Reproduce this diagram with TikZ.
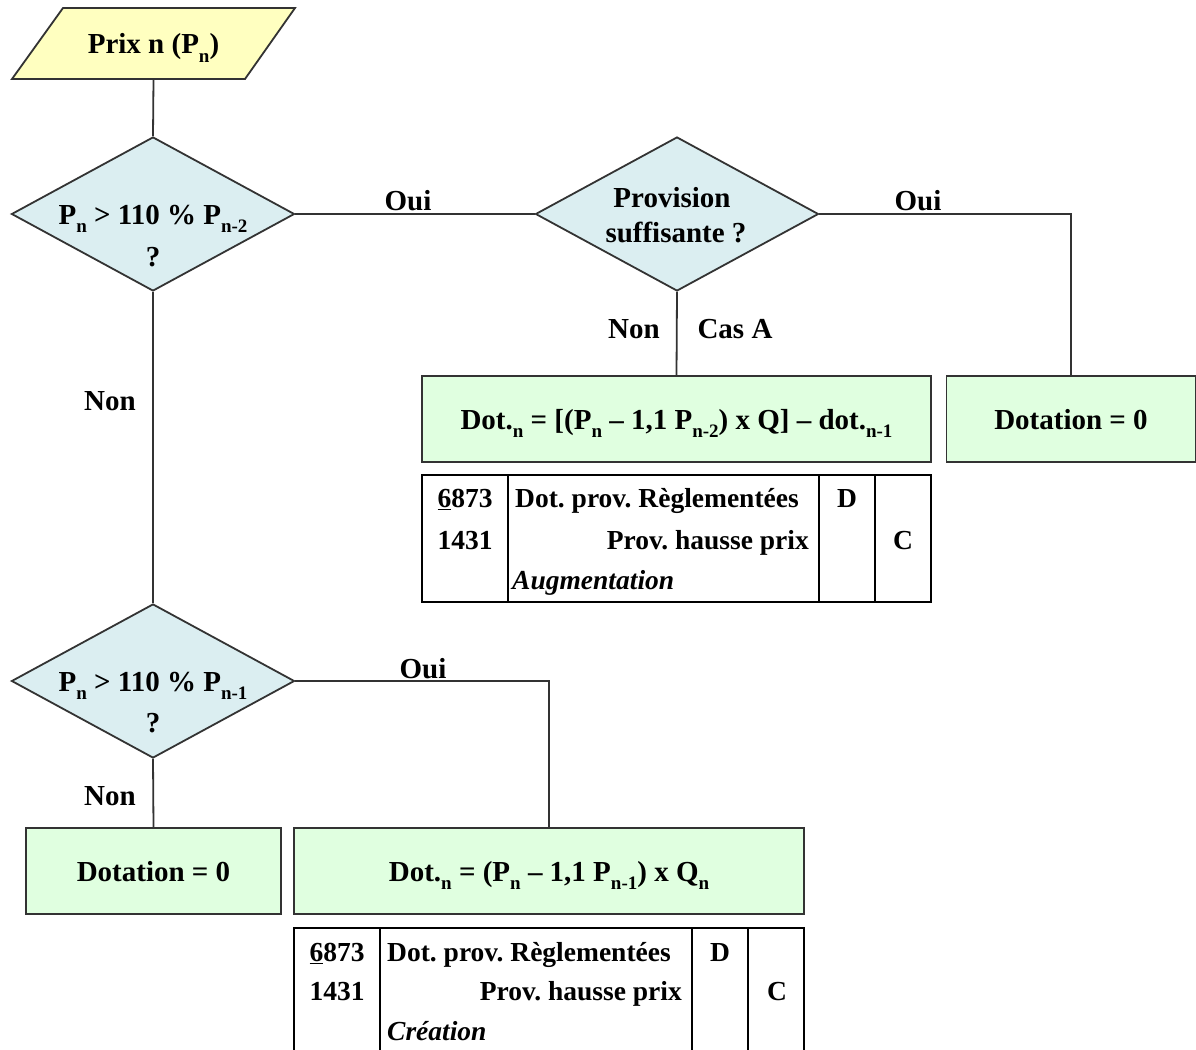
\documentclass[tikz,border=0pt]{standalone}
\usepackage{fontspec}
\setmainfont{Liberation Serif}
\usetikzlibrary{shapes.geometric}
\definecolor{yelfill}{RGB}{255,255,192}
\definecolor{bluefill}{RGB}{219,238,241}
\definecolor{greenfill}{RGB}{224,255,224}
\definecolor{edge}{RGB}{51,51,51}
\newcommand{\lsub}[1]{\raisebox{-0.3em}{\fontsize{19}{20}\selectfont #1}}
\frenchspacing
\tikzset{
  base/.style={font=\fontsize{29}{34}\selectfont\bfseries, inner sep=0pt, text height=20pt, text depth=0pt},
  decision/.style={diamond, draw=edge, line width=1.8pt, fill=bluefill, minimum width=283pt, minimum height=154pt, inner sep=0pt},
  result/.style={rectangle, draw=edge, line width=1.8pt, fill=greenfill, minimum height=86pt, inner sep=0pt, text height=20pt, text depth=0pt, font=\fontsize{29}{34}\selectfont\bfseries},
  conn/.style={draw=edge, line width=1.8pt},
  lbl/.style={base},
  tab/.style={draw=black, line width=1.6pt},
  tabtxt/.style={font=\fontsize{27.5}{32}\selectfont\bfseries, inner sep=0pt, text height=19pt, text depth=0pt},
}
\begin{document}
\begin{tikzpicture}[x=1pt, y=-1pt]
\useasboundingbox (0,0) rectangle (1196,1049);
\clip (0,0) rectangle (1196,1049);
\fill[white] (0,0) rectangle (1196,1049);

% start parallelogram
\draw[fill=yelfill, draw=edge, line width=1.8pt] (63,8) -- (295,8) -- (245,79) -- (12,79) -- cycle;
\node[base, minimum width=200pt, minimum height=71pt] (start) at (153.5,43.5) {Prix n (P\lsub{n})};

% decisions
\node[decision] (d1) at (153,214) {};
\node[base] at (153,214) {P\lsub{n} > 110 \% P\lsub{n-2}};
\node[base] at (153,256) {?};

\node[decision] (d2) at (677,214) {};
\node[base] at (672,197) {Provision};
\node[base] at (676,232) {suffisante ?};

\node[decision] (d3) at (153,681) {};
\node[base] at (153,681) {P\lsub{n} > 110 \% P\lsub{n-1}};
\node[base] at (153,722) {?};

% results
\node[result, minimum width=509pt] (ba) at (676.5,419) {Dot.\lsub{n} = [(P\lsub{n} – 1,1 P\lsub{n-2}) x Q] – dot.\lsub{n-1}};
\node[result, minimum width=249pt] (z1) at (1071,419) {Dotation = 0};
\node[result, minimum width=255pt] (z2) at (153.5,871) {Dotation = 0};
\node[result, minimum width=510pt] (bb) at (549,871) {Dot.\lsub{n} = (P\lsub{n} – 1,1 P\lsub{n-1}) x Q\lsub{n}};

% connectors
\draw[conn] (start.south) -- (d1.north);
\draw[conn] (d1.east) -- (d2.west);
\draw[conn] (d2.east) -| (z1.north);
\draw[conn] (d2.south) -- (ba.north);
\draw[conn] (d1.south) -- (d3.north);
\draw[conn] (d3.east) -| (bb.north);
\draw[conn] (d3.south) -- (z2.north);

% labels
\node[lbl] at (408,200) {Oui};
\node[lbl] at (918,200) {Oui};
\node[lbl] at (634,328) {Non};
\node[lbl] at (735,328) {Cas A};
\node[lbl] at (110,400) {Non};
\node[lbl] at (423,668) {Oui};
\node[lbl] at (110,795) {Non};

% table A
\draw[tab] (422,475) rectangle (931,602);
\draw[tab] (508,475) -- (508,602);
\draw[tab] (819,475) -- (819,602);
\draw[tab] (875,475) -- (875,602);
\node[tabtxt] at (465,498) {\underline{6}873};
\node[tabtxt] at (465,540) {1431};
\node[tabtxt, anchor=west] at (515,498) {Dot. prov. Règlementées};
\node[tabtxt, anchor=east] at (809,540) {Prov. hausse prix};
\node[tabtxt, anchor=west] at (512,580) {\itshape Augmentation};
\node[tabtxt] at (847,498) {D};
\node[tabtxt] at (903,540) {C};

% table B
\draw[tab] (294,928) rectangle (804,1070);
\draw[tab] (380,928) -- (380,1070);
\draw[tab] (692,928) -- (692,1070);
\draw[tab] (748,928) -- (748,1070);
\node[tabtxt] at (337,952) {\underline{6}873};
\node[tabtxt] at (337,991) {1431};
\node[tabtxt, anchor=west] at (387,952) {Dot. prov. Règlementées};
\node[tabtxt, anchor=east] at (682,991) {Prov. hausse prix};
\node[tabtxt, anchor=west] at (387,1031) {\itshape Création};
\node[tabtxt] at (720,952) {D};
\node[tabtxt] at (777,991) {C};
\end{tikzpicture}
\end{document}
